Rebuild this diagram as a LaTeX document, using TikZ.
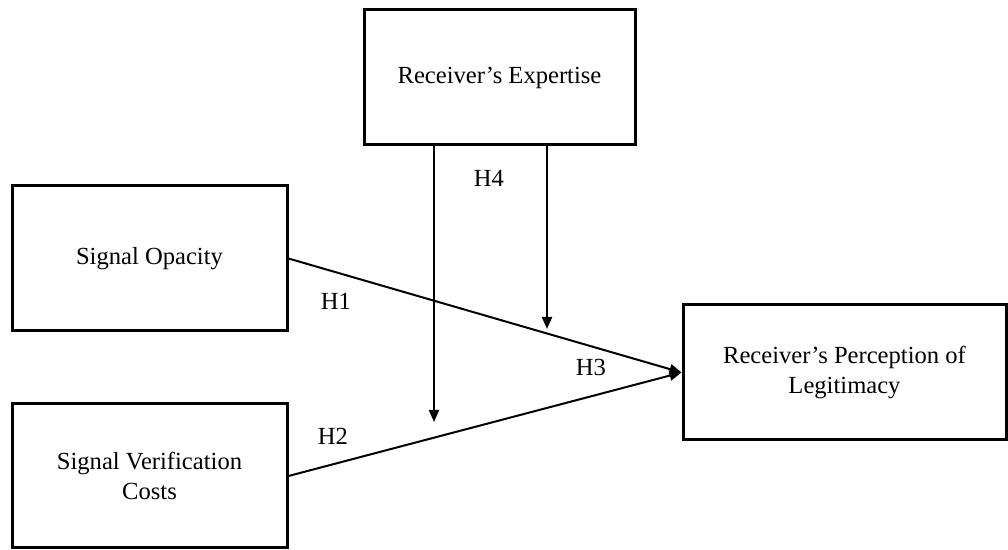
\documentclass[tikz,border=0pt]{standalone}
\usepackage{fontspec}
\setmainfont{Liberation Serif}
\usepackage{tikz}
\usetikzlibrary{
    positioning,
    arrows.meta
}

\tikzset{
    varbox/.style={draw, line width=1.5pt, align=center, inner sep=0pt,
        font=\fontsize{12.3}{15}\selectfont},
    hyplabel/.style={font=\fontsize{12.3}{15}\selectfont, inner sep=0pt}
}

\begin{document}
\begin{tikzpicture}[x=0.5pt, y=-0.5pt, >={Triangle[length=6pt, width=5pt]}]
        \useasboundingbox (0,0) rectangle (1008,550);

        \node[varbox, minimum width=135.5pt, minimum height=67.5pt] (expert) at (499.5,77.5) {Receiver's Expertise};
        \node[varbox, minimum width=137.5pt, minimum height=72.5pt] (opacity) at (149.5,258.5) {Signal Opacity};
        \node[varbox, minimum width=137.5pt, minimum height=72pt] (costs) at (149.5,476) {Signal Verification\\Costs};
        \node[varbox, minimum width=161.5pt, minimum height=67.5pt] (legit) at (844.5,372.5) {Receiver's Perception of\\Legitimacy};

        \coordinate (modH2) at (434,422);
        \coordinate (modH1) at (547,329);

        \draw[->, line width=1pt] (opacity.east) -- (legit.west);
        \draw[->, line width=1pt] (costs.east) -- (legit.west);
        \draw[->, line width=1pt] (expert.south -| modH2) -- (modH2);
        \draw[->, line width=1pt] (expert.south -| modH1) -- (modH1);

        \node[hyplabel] (h1) at (336,301) {H1};
        \node[hyplabel] (h2) at (333,436) {H2};
        \node[hyplabel] (h3) at (591,367) {H3};
        \node[hyplabel] (h4) at (489,178) {H4};
\end{tikzpicture}
\end{document}
